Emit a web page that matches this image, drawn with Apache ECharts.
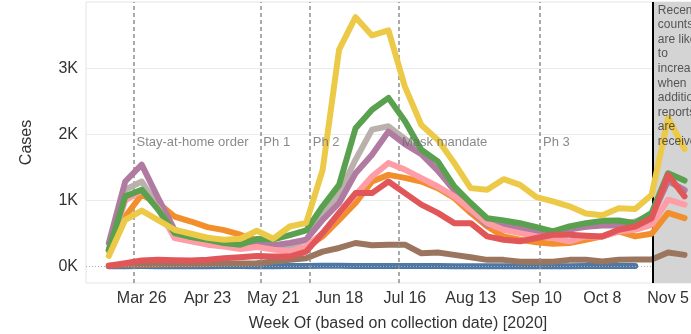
<!DOCTYPE html>
<html>
<head>
<meta charset="utf-8">
<script src="https://cdn.jsdelivr.net/npm/echarts@6/dist/echarts.min.js"></script>
<style>
  html, body { margin: 0; padding: 0; background: #fff; }
  #chart { width: 691px; height: 334px; }
</style>
</head>
<body>
<div id="chart"></div>
<script>
// Weekly COVID-19 cases by region, week of collection date (2020)
const weeks = [
  '2020-03-12','2020-03-19','2020-03-26','2020-04-02','2020-04-09','2020-04-16',
  '2020-04-23','2020-04-30','2020-05-07','2020-05-14','2020-05-21','2020-05-28',
  '2020-06-04','2020-06-11','2020-06-18','2020-06-25','2020-07-02','2020-07-09',
  '2020-07-16','2020-07-23','2020-07-30','2020-08-06','2020-08-13','2020-08-20',
  '2020-08-27','2020-09-03','2020-09-10','2020-09-17','2020-09-24','2020-10-01',
  '2020-10-08','2020-10-15','2020-10-22','2020-10-29','2020-11-05','2020-11-12'
];

const regionBlue   = [5, 5, 6, 4, 3, 3, 4, 6, 6, 5, 5, 6, 8, 10, 10, 8, 8, 8, 8, 6, 6, 5, 5, 5, 5, 5, 5, 5, 5, 6, 6, 6, 6];
const regionBrown  = [10, 20, 20, 25, 30, 30, 35, 40, 45, 50, 75, 100, 125, 225, 280, 355, 320, 330, 330, 200, 210, 175, 140, 100, 100, 70, 70, 70, 100, 100, 75, 100, 105, 105, 210, 175];
const regionOrange = [250, 755, 1085, 960, 755, 680, 595, 550, 480, 400, 330, 260, 280, 455, 705, 960, 1285, 1385, 1340, 1285, 1185, 1035, 810, 605, 455, 405, 365, 345, 355, 405, 455, 530, 455, 495, 810, 730];
const regionGray   = [250, 1160, 1285, 910, 530, 440, 420, 380, 300, 330, 330, 300, 405, 755, 1110, 1615, 2070, 2120, 1930, 1715, 1465, 1160, 860, 680, 630, 595, 530, 510, 580, 605, 630, 630, 680, 780, 1285, 1160];
const regionPurple = [355, 1285, 1540, 1035, 555, 440, 400, 370, 320, 330, 320, 355, 405, 705, 960, 1410, 1690, 2040, 1850, 1700, 1450, 1150, 850, 630, 605, 580, 530, 500, 560, 600, 620, 620, 660, 760, 1300, 1150];
const regionPink   = [240, 1000, 1150, 880, 430, 380, 330, 300, 265, 295, 255, 225, 300, 505, 810, 1085, 1360, 1565, 1465, 1335, 1210, 1060, 860, 655, 555, 505, 455, 430, 380, 455, 455, 530, 555, 630, 1010, 935];
const regionGreen  = [250, 1060, 1160, 860, 505, 445, 405, 355, 330, 415, 410, 475, 545, 910, 1235, 2090, 2370, 2550, 2200, 1765, 1590, 1210, 960, 730, 695, 655, 595, 530, 605, 655, 690, 695, 655, 810, 1410, 1300];
const regionYellow = [160, 705, 845, 700, 555, 495, 435, 405, 420, 540, 420, 605, 660, 1460, 3280, 3770, 3495, 3570, 2720, 2140, 1915, 1565, 1185, 1160, 1320, 1235, 1050, 985, 910, 800, 775, 880, 870, 1085, 2245, 1775];
const regionRed    = [10, 50, 90, 100, 95, 90, 100, 125, 140, 160, 150, 150, 225, 505, 810, 1110, 1110, 1285, 1110, 935, 810, 655, 655, 455, 405, 380, 430, 480, 480, 465, 455, 555, 605, 730, 1385, 1060];

const tickDates  = ['2020-03-26','2020-04-23','2020-05-21','2020-06-18','2020-07-16','2020-08-13','2020-09-10','2020-10-08','2020-11-05'];
const tickLabels = ['Mar 26','Apr 23','May 21','Jun 18','Jul 16','Aug 13','Sep 10','Oct 8','Nov 5'];
const yTicks     = [0, 1000, 2000, 3000];

const eventNames = ['Stay-at-home order', 'Ph 1', 'Ph 2', 'Mask mandate', 'Ph 3'];
const eventDates = ['2020-03-22T12:00:00Z', '2020-05-15T12:00:00Z', '2020-06-05T12:00:00Z', '2020-07-13T12:00:00Z', '2020-09-11T12:00:00Z'];
const provisionalFrom = '2020-10-29T12:00:00Z';
const provisionalNote = 'Recent\ncounts\nare likely\nto\nincrease\nwhen\nadditional\nreports\nare\nreceived';

// x axis runs in days since the first reported week
const dayZero = Date.parse(weeks[0] + 'T00:00:00Z');
const toDay = s => (Date.parse(s.length === 10 ? s + 'T00:00:00Z' : s) - dayZero) / 864e5;
const weekDays = weeks.map(toDay);
const tickDays = tickDates.map(toDay);
const eventDays = eventDates.map(toDay);
const provisionalDay = toDay(provisionalFrom);

const X_MIN = -9.7, X_MAX = 252;
const Y_MIN = -250, Y_MAX = 4000;
const EVENT_LABEL_LEVEL = 1876;
const FONT = "'Liberation Sans', Arial, sans-serif";

const regions = [
  { name: 'Region 1', color: '#4e79a7', values: regionBlue },
  { name: 'Region 2', color: '#9c755f', values: regionBrown },
  { name: 'Region 3', color: '#f28e2b', values: regionOrange },
  { name: 'Region 4', color: '#bab0ac', values: regionGray },
  { name: 'Region 5', color: '#b07aa1', values: regionPurple },
  { name: 'Region 6', color: '#ff9da7', values: regionPink },
  { name: 'Region 7', color: '#59a14f', values: regionGreen },
  { name: 'Region 8', color: '#edc948', values: regionYellow },
  { name: 'Region 9', color: '#e15759', values: regionRed }
];

const lineSeries = regions.map((r, i) => ({
  name: r.name,
  type: 'line',
  z: 3 + i,
  symbol: 'none',
  showSymbol: false,
  smooth: false,
  color: r.color,
  lineStyle: { width: 6, color: r.color, join: 'round', cap: 'round' },
  data: r.values.map((v, k) => [weekDays[k], v])
}));

const chart = echarts.init(document.getElementById('chart'), null, { renderer: 'canvas' });

chart.setOption({
  animation: false,
  textStyle: { fontFamily: FONT },
  grid: {
    left: 86, top: 2, width: 615, height: 281,
    outerBoundsMode: 'none',
    containLabel: false,
    show: true, borderColor: '#e4e4e4', borderWidth: 1, backgroundColor: 'transparent'
  },
  xAxis: {
    type: 'value',
    min: X_MIN, max: X_MAX,
    name: 'Week Of (based on collection date) [2020]',
    nameLocation: 'middle',
    nameGap: 33,
    nameTextStyle: { fontSize: 16, color: '#333', fontFamily: FONT, padding: [0, 0, 0, 9] },
    axisLine: { show: false, onZero: false },
    axisTick: { show: false, customValues: tickDays },
    splitLine: { show: false },
    axisLabel: {
      customValues: tickDays,
      margin: 8,
      fontSize: 16,
      color: '#333',
      fontFamily: FONT,
      formatter: v => {
        const i = tickDays.findIndex(d => Math.abs(d - v) < 0.01);
        return i >= 0 ? tickLabels[i] : '';
      }
    }
  },
  yAxis: {
    type: 'value',
    min: Y_MIN, max: Y_MAX,
    name: 'Cases',
    nameLocation: 'middle',
    nameGap: 51,
    nameTextStyle: { fontSize: 16, color: '#333', fontFamily: FONT },
    axisLine: { show: false, onZero: false },
    axisTick: { show: false, customValues: yTicks.filter(v => v !== 0) },
    splitLine: { show: true, lineStyle: { color: '#ebebeb', width: 1 } },
    axisLabel: {
      customValues: yTicks,
      margin: 8,
      fontSize: 16,
      color: '#333',
      fontFamily: FONT,
      formatter: v => (v / 1000) + 'K'
    }
  },
  series: [
    {
      // provisional period shading and the zero reference line
      name: 'provisional',
      type: 'line',
      z: 1,
      data: [],
      silent: true,
      markArea: {
        silent: true,
        itemStyle: { color: '#d4d4d4' },
        label: { show: false },
        data: [[{ xAxis: provisionalDay }, { xAxis: X_MAX }]]
      },
      markLine: {
        silent: true,
        symbol: 'none',
        label: { show: false },
        lineStyle: { type: [1, 2], color: '#aaaaaa', width: 1 },
        data: [[{ coord: [X_MIN, 0] }, { coord: [provisionalDay, 0] }]]
      }
    },
    ...lineSeries,
    {
      // policy milestones
      name: 'events',
      type: 'scatter',
      z: 20,
      symbolSize: 0,
      silent: true,
      label: {
        show: true,
        position: 'right',
        distance: 3,
        color: '#6b6b6b',
        fontSize: 13,
        fontFamily: FONT,
        formatter: p => p.data[2]
      },
      data: eventDays.map((d, i) => [d, EVENT_LABEL_LEVEL, eventNames[i]]),
      markLine: {
        silent: true,
        symbol: 'none',
        label: { show: false },
        data: [
          ...eventDays.map(d => ({ xAxis: d, lineStyle: { type: [4, 3], color: '#8f8f8f', width: 1.5 } })),
          { xAxis: provisionalDay, lineStyle: { type: 'solid', color: '#000', width: 2 } }
        ]
      }
    },
    {
      // note on the provisional period
      name: 'note',
      type: 'scatter',
      z: 21,
      symbolSize: 0,
      silent: true,
      data: [[provisionalDay, Y_MAX]],
      label: {
        show: true,
        position: [5, 1],
        align: 'left',
        verticalAlign: 'top',
        formatter: provisionalNote,
        color: '#333',
        fontSize: 12,
        lineHeight: 14.6,
        fontFamily: FONT
      }
    }
  ]
});
</script>
</body>
</html>
